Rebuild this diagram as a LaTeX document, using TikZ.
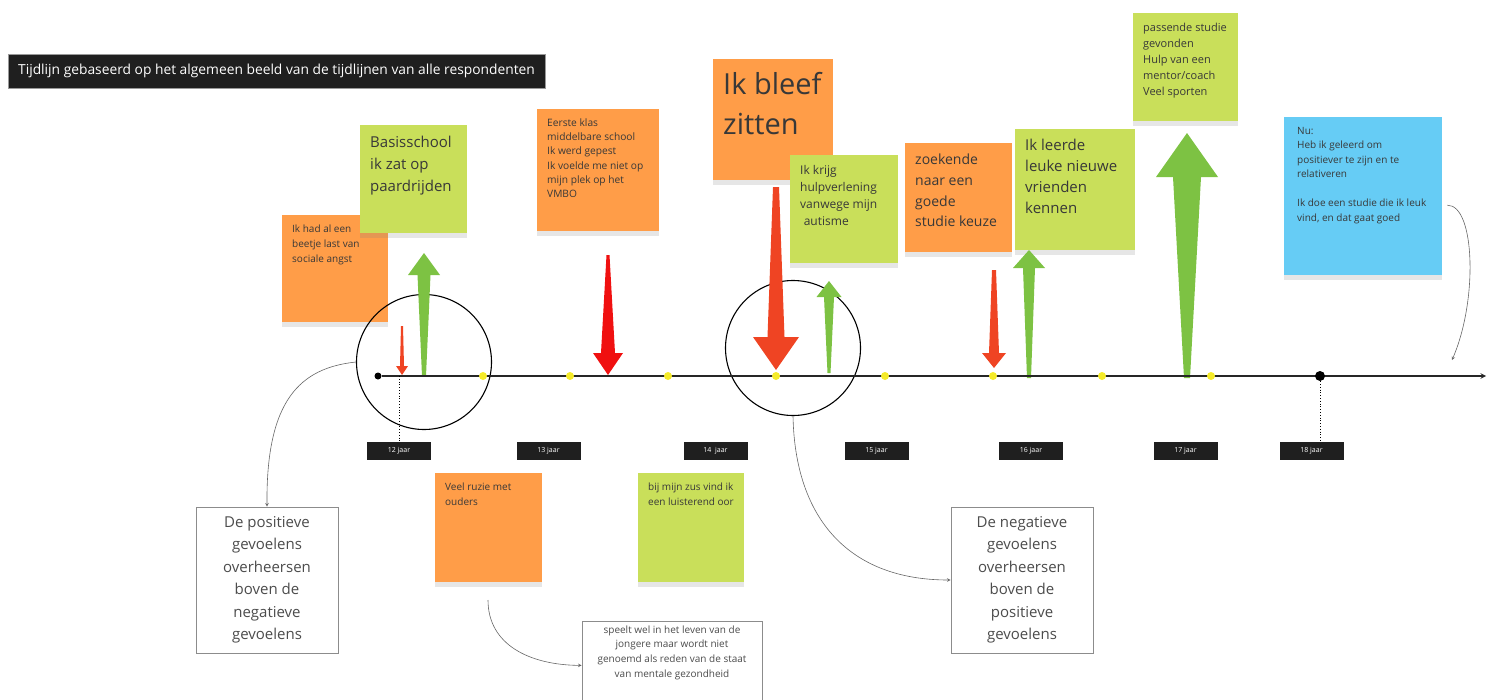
\documentclass[tikz,border=0pt]{standalone}
\usepackage{fontspec}
\setmainfont{Open Sans}
\usetikzlibrary{shadows}
\tikzset{>=stealth}
\definecolor{noteorange}{HTML}{FF9D48}
\definecolor{notelime}{HTML}{C9DF5A}
\definecolor{noteblue}{HTML}{66CCF5}
\definecolor{upgreen}{HTML}{7DC243}
\definecolor{downred}{HTML}{EF4423}
\definecolor{hardred}{HTML}{F01010}
\definecolor{dotyellow}{HTML}{F5EB2A}
\tikzset{
  sticky/.style={anchor=north west, inner sep=0pt, text=black!78,
    drop shadow={shadow xshift=0pt, shadow yshift=-5pt, opacity=.2}},
  remark/.style={draw=black!45, fill=white, line width=.8pt, align=center, text=black!70},
  yearlab/.style={fill=black!88, text=white, minimum width=64pt, minimum height=18pt,
    inner sep=0pt, font=\fontsize{7}{8}\selectfont},
  ydot/.style={circle, fill=dotyellow, inner sep=0pt, minimum size=8pt},
  bdot/.style={circle, fill=black, inner sep=0pt},
  ring/.style={circle, draw, line width=1.1pt, minimum size=135pt, inner sep=0pt},
  link/.style={->, draw=black!60, line width=.6pt},
}
\newcommand\sticky[8]{%
  \node[sticky, fill=#2] (#1) at (#3,#4) {\parbox[t][#6pt][t]{#5pt}{\vspace*{7pt}%
    \leftskip=10pt\relax\rightskip=0pt plus 1fil\relax\parindent=0pt\relax#7\strut#8}};}
\newcommand\taper[8]{%
  \fill[#1] ({#2-#6/2},#3) -- ({#2-#7/2},#4) -- ({#2-#8/2},#4) -- (#2,#5)
    -- ({#2+#8/2},#4) -- ({#2+#7/2},#4) -- ({#2+#6/2},#3) -- cycle;}

\begin{document}
\begin{tikzpicture}[x=1pt, y=-1pt]
    \useasboundingbox (0,0) rectangle (1491,699);

    \node[fill=black!88, draw=black!40, text=white, minimum width=537pt, minimum height=34pt,
      font=\fontsize{13.8}{16}\selectfont] (title) at (276.5,71)
      {Tijdlijn gebaseerd op het algemeen beeld van de tijdlijnen van alle respondenten};

    \sticky{angst}{noteorange}{282}{215}{106}{107}{\fontsize{10}{15}\selectfont}
      {Ik had al een\\beetje last van\\sociale angst}
    \sticky{basis}{notelime}{360}{125}{107}{108}{\fontsize{15}{22}\selectfont}
      {Basisschool\\ik zat op\\paardrijden}
    \sticky{klas}{noteorange}{537}{109}{122}{122}{\fontsize{10.2}{14.3}\selectfont}
      {Eerste klas\\middelbare school\\Ik werd gepest\\Ik voelde me niet op\\mijn plek op het\\VMBO}
    \sticky{bleef}{noteorange}{713}{59}{120}{121}{\fontsize{29}{40}\selectfont}
      {Ik bleef\\zitten}
    \sticky{krijg}{notelime}{790}{155}{108}{108}{\fontsize{12}{17}\selectfont}
      {Ik krijg\\hulpverlening\\vanwege mijn\\\hspace*{.3em}autisme}
    \sticky{zoek}{noteorange}{905}{143}{107}{109}{\fontsize{14}{20.7}\selectfont}
      {zoekende\\naar een\\goede\\studie keuze}
    \sticky{leerde}{notelime}{1015}{129}{120}{121}{\fontsize{15}{21}\selectfont}
      {Ik leerde\\leuke nieuwe\\vrienden\\kennen}
    \sticky{passend}{notelime}{1133}{13}{105}{108}{\fontsize{11}{16}\selectfont}
      {passende studie\\gevonden\\Hulp van een\\mentor/coach\\Veel sporten}
    \sticky{nu}{noteblue}{1284}{117}{158}{158}{\leftskip=13pt\relax\fontsize{10}{14.5}\selectfont}
      {Nu:\\Heb ik geleerd om\\positiever te zijn en te\\relativeren\\[14.5pt]Ik doe een studie die ik leuk\\vind, en dat gaat goed}
    \sticky{ruzie}{noteorange}{435}{473}{107}{109}{\fontsize{10}{15}\selectfont}
      {Veel ruzie met\\ouders}
    \sticky{zus}{notelime}{638}{473}{106}{109}{\fontsize{10}{15}\selectfont}
      {bij mijn zus vind ik\\een luisterend oor}

    \node[ring] (ring1) at (424,362) {};
    \node[ring] (ring2) at (793,348) {};

    \taper{downred}{402}{326}{366}{375}{2}{4}{12}
    \taper{upgreen}{424}{376}{275}{253}{4}{13}{32}
    \taper{hardred}{608}{255}{353}{375}{3}{14}{30}
    \taper{downred}{776}{187}{337}{370}{6}{17}{46}
    \taper{upgreen}{829}{373}{297}{281}{3}{10}{25}
    \taper{downred}{994}{270}{353}{368}{4}{10}{24}
    \taper{upgreen}{1029}{378}{268}{250}{4}{12}{32}
    \taper{upgreen}{1187}{378}{177}{133}{6}{28}{62}

    \node[bdot, minimum size=7pt] (d0) at (378,376) {};
    \coordinate (tend) at (1486,376);
    \draw[->, line width=1.4pt, black!85] (d0) -- (tend);
    \node[bdot, minimum size=10pt] (d18) at (1320,376) {};
    \foreach \xd [count=\i] in {483,570,668,776,885,993,1102,1211}
      \node[ydot] (yd\i) at (\xd,376) {};

    \foreach \xc/\lab/\nm in {399/12 jaar/y12, 548.5/13 jaar/y13, 715.5/14\ \ jaar/y14,
      876.5/15 jaar/y15, 1031/16 jaar/y16, 1185.5/17 jaar/y17, 1311.5/18 jaar/y18}
      \node[yearlab] (\nm) at (\xc,451) {\lab};

    \coordinate (m12) at (399,376);
    \draw[dotted, line width=.8pt] (m12) -- (y12.north);
    \draw[dotted, line width=.8pt] (d18) -- (d18 |- y18.north);

    \node[remark, minimum width=142pt, minimum height=146pt, font=\fontsize{15}{22.5}\selectfont]
      (boxA) at (267,580) {De positieve\\gevoelens\\overheersen\\boven de\\negatieve\\gevoelens};
    \node[remark, minimum width=142pt, minimum height=146pt, font=\fontsize{15}{22.5}\selectfont]
      (boxB) at (1022,580) {De negatieve\\gevoelens\\overheersen\\boven de\\positieve\\gevoelens};
    \node[remark, anchor=north, inner sep=0pt, font=\fontsize{10}{14.7}\selectfont]
      (boxC) at (672,621) {\parbox[t][88pt][t]{180pt}{\vspace*{4pt}\centering
      speelt wel in het leven van de\\jongere maar wordt niet\\genoemd als reden van de staat\\van mentale gezondheid}};

    \coordinate (ruzietail) at (488,600);
    \coordinate (nuend) at (1452,360);
    \draw[link] (ring1.west) .. controls (300,368) and (266,400) .. (boxA.north);
    \draw[link] (ring2.south) .. controls (795,520) and (850,580) .. (boxB.west);
    \draw[link] (ruzietail) .. controls (488,645) and (530,665) .. (boxC.west);
    \draw[link] ([shift={(5pt,-9pt)}]nu.east) .. controls (1475,205) and (1478,300) .. (nuend);
\end{tikzpicture}
\end{document}
